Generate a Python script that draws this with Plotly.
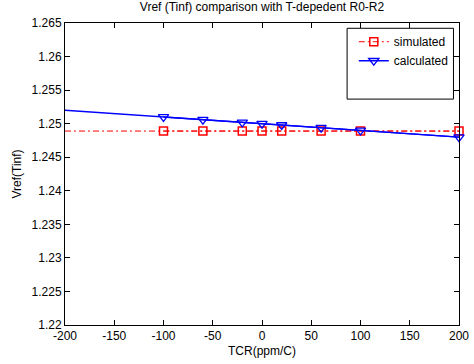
import plotly.graph_objects as go

# Data
tcr_points = [-100, -60, -20, 0, 20, 60, 100, 200]
simulated = [1.2489, 1.2489, 1.2489, 1.2489, 1.2489, 1.2489, 1.2489, 1.2489]
calculated = [1.2510, 1.2506, 1.2502, 1.2500, 1.2498, 1.2494, 1.2490, 1.2480]
tcr_range = [-200, 200]
sim_range = [1.2489, 1.2489]
calc_range = [1.2520, 1.2480]

x_ticks = [-200, -150, -100, -50, 0, 50, 100, 150, 200]
y_ticks = [1.22, 1.225, 1.23, 1.235, 1.24, 1.245, 1.25, 1.255, 1.26, 1.265]
y_labels = ["1.22", "1.225", "1.23", "1.235", "1.24", "1.245", "1.25", "1.255", "1.26", "1.265"]

RED = "#ff0000"
BLUE = "#0000ff"
DASHDOT = "6px,3px,2px,3px"
FONT = "Liberation Sans, Arial, sans-serif"

fig = go.Figure()
fig.add_trace(go.Scatter(x=tcr_range, y=sim_range, mode="lines",
                         line=dict(color=RED, width=1, dash=DASHDOT),
                         showlegend=False, hoverinfo="skip"))
fig.add_trace(go.Scatter(x=tcr_range, y=calc_range, mode="lines",
                         line=dict(color=BLUE, width=1.4),
                         showlegend=False, hoverinfo="skip"))
fig.add_trace(go.Scatter(x=tcr_points, y=simulated, mode="lines+markers", name="simulated",
                         cliponaxis=False,
                         line=dict(color=RED, width=1, dash=DASHDOT),
                         marker=dict(symbol="square-open", size=8, color=RED, line=dict(width=1.5, color=RED))))
fig.add_trace(go.Scatter(x=tcr_points, y=calculated, mode="lines+markers", name="calculated",
                         cliponaxis=False,
                         line=dict(color=BLUE, width=1.4),
                         marker=dict(symbol="triangle-down-open", size=9, color=BLUE, line=dict(width=1.3, color=BLUE))))

axis_common = dict(showline=True, linecolor="black", linewidth=1, mirror="ticks",
                   ticks="inside", ticklen=5, tickcolor="black", tickwidth=1, showgrid=False,
                   zeroline=False, automargin=False,
                   tickfont=dict(family=FONT, size=12, color="black"))

# legend frame (MATLAB draws a taller box than its entries)
fig.add_shape(type="rect", xref="paper", yref="paper", x0=0.716, x1=0.986, y0=0.748, y1=0.9825,
              line=dict(color="black", width=1), fillcolor="white", layer="above")

fig.update_layout(
    template="none",
    width=474, height=364,
    margin=dict(l=65, r=15, t=23, b=39, pad=0, autoexpand=False),
    paper_bgcolor="white", plot_bgcolor="white",
    font=dict(family=FONT, size=12, color="black"),
    title=dict(text="Vref (Tinf) comparison with T-depedent R0-R2", x=0.5, xanchor="center", xref="paper",
               yref="container", y=1, yanchor="top", pad=dict(t=3), font=dict(size=12)),
    xaxis=dict(range=[-200, 200], tickvals=x_ticks, ticktext=[str(v) for v in x_ticks],
               title=dict(text="TCR(ppm/C)", standoff=4, font=dict(size=12)), **axis_common),
    yaxis=dict(range=[1.22, 1.265], tickvals=y_ticks, ticktext=y_labels,
               title=dict(text="Vref(Tinf)", standoff=7, font=dict(size=12)), **axis_common),
    legend=dict(x=0.733, y=0.986, xanchor="left", yanchor="top",
                borderwidth=0, bgcolor="rgba(0,0,0,0)",
                font=dict(size=12), tracegroupgap=0, itemwidth=30),
    showlegend=True,
)

fig.write_html("out.html", config={"displayModeBar": False},
               post_script="document.body.style.margin='0';document.body.style.overflow='hidden';")
